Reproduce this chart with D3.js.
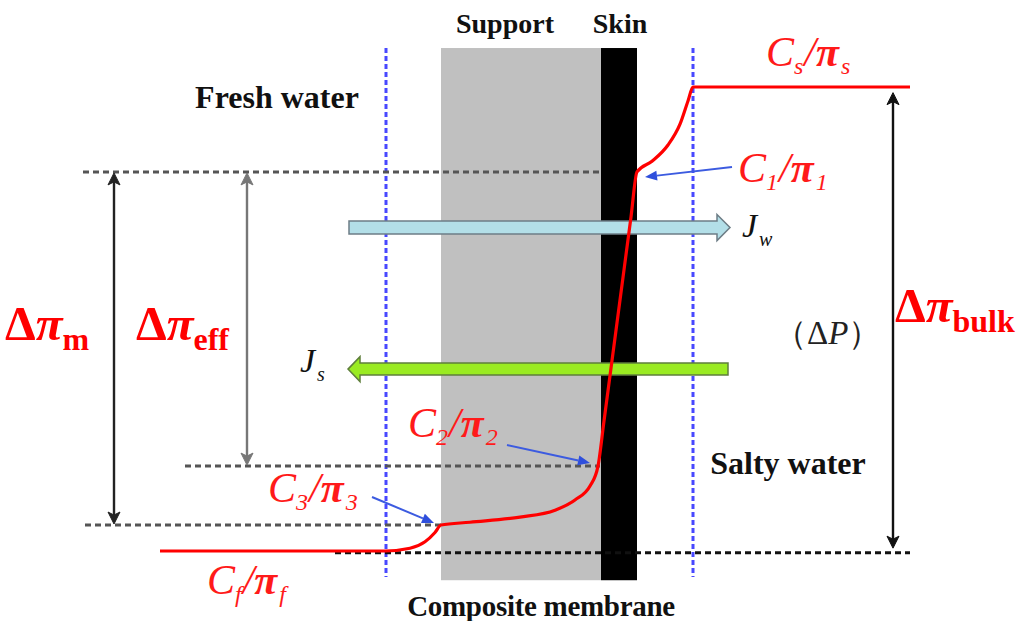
<!DOCTYPE html>
<html><head><meta charset="utf-8">
<script src="https://cdn.jsdelivr.net/npm/d3@7"></script>
<style>body{margin:0;background:#fff}svg{display:block}</style>
</head><body>
<svg id="c" width="1017" height="621"></svg>
<script>
// ---- data (diagram units: x = position across the cell, c = relative concentration) ----
const layerNames = ["Support", "Skin"];
const layerX0 = [441, 601];
const layerX1 = [601, 637];
const layerColors = ["#c0c0c0", "#000000"];
const membraneTop = 108.4, membraneBottom = -6.3;
const boundaryX = [386, 693];            // edges of the concentration-polarisation layers
const profileX = [160, 385, 410, 425, 435, 441, 470, 520, 555, 575, 590, 598, 604, 631, 637, 652, 668, 680, 688, 693, 910];
const profileC = [0, 0, 0.6, 2, 4, 5.6, 6.2, 7.3, 8.8, 11, 14, 18.3, 28, 72, 81.7, 84, 87.5, 92, 97, 100, 100];
const levelC  = [81.7, 18.3, 5.6, -0.4];  // C1, C2, C3, baseline
const levelX0 = [83, 185, 85, 335];
const levelX1 = [601, 600, 441, 910];
const spanX  = [114, 247, 893];           // Δπm, Δπeff, Δπbulk
const spanC0 = [5.6, 18.3, 0.4];
const spanC1 = [81.7, 81.7, 99];
const fluxNames = ["Jw", "Js"];
const fluxC  = [69.7, 39.2];
const fluxX0 = [349, 728];
const fluxX1 = [730, 348];

const svg = d3.select("#c");
const x = d3.scaleLinear().domain([0, 1017]).range([0, 1017]);
const y = d3.scaleLinear().domain([0, 100]).range([551, 87]);

const serif = "'Liberation Serif','Times New Roman',serif";

// membrane layers
svg.selectAll("rect.layer").data(layerNames).join("rect")
  .attr("x", (d, i) => x(layerX0[i])).attr("width", (d, i) => x(layerX1[i]) - x(layerX0[i]))
  .attr("y", y(membraneTop)).attr("height", y(membraneBottom) - y(membraneTop))
  .attr("fill", (d, i) => layerColors[i]);

// boundary layer lines
svg.selectAll("line.bl").data(boundaryX).join("line")
  .attr("x1", d => x(d)).attr("x2", d => x(d))
  .attr("y1", y(membraneTop)).attr("y2", y(-5.6))
  .attr("stroke", "#4848ff").attr("stroke-width", 3).attr("stroke-dasharray", "5,3");

// level dashed lines
svg.selectAll("line.lvl").data(levelC).join("line")
  .attr("x1", (d, i) => x(levelX0[i])).attr("x2", (d, i) => x(levelX1[i]))
  .attr("y1", d => y(d)).attr("y2", d => y(d))
  .attr("stroke", (d, i) => i === 3 ? "#111" : "#555")
  .attr("stroke-width", 3).attr("stroke-dasharray", "6,4");

// flux arrows
function fluxPath(x0, x1, yc, h, H, L) {
  const dir = Math.sign(x1 - x0);
  const xh = x1 - dir * L;
  return `M${x0},${yc - h}L${xh},${yc - h}L${xh},${yc - H}L${x1},${yc}L${xh},${yc + H}L${xh},${yc + h}L${x0},${yc + h}Z`;
}
svg.append("path").attr("d", fluxPath(x(fluxX0[0]), x(fluxX1[0]), y(fluxC[0]), 6.5, 13, 13))
  .attr("fill", "#b3dfe8").attr("stroke", "#6d7d86").attr("stroke-width", 1.5);
svg.append("path").attr("d", fluxPath(x(fluxX0[1]), x(fluxX1[1]), y(fluxC[1]), 6, 12.5, 12))
  .attr("fill", "#9aeb22").attr("stroke", "#5f7f3c").attr("stroke-width", 1.5);

// concentration profile
const line = d3.line().x(d => x(d[0])).y(d => y(d[1])).curve(d3.curveMonotoneX);
svg.append("path").datum(profileX.map((v, i) => [v, profileC[i]]))
  .attr("d", line).attr("fill", "none").attr("stroke", "#ff0000").attr("stroke-width", 3.2);

// double arrows
function vArrow(xx, ya, yb, color) {
  const g = svg.append("g");
  g.append("line").attr("x1", xx).attr("x2", xx).attr("y1", ya + 4).attr("y2", yb - 4)
    .attr("stroke", color).attr("stroke-width", 2.4);
  g.append("path").attr("d", `M${xx},${ya + 1}L${xx - 6},${ya + 13}L${xx},${ya + 10}L${xx + 6},${ya + 13}Z`).attr("fill", color).attr("stroke", color).attr("stroke-width", 1);
  g.append("path").attr("d", `M${xx},${yb - 1}L${xx - 6},${yb - 13}L${xx},${yb - 10}L${xx + 6},${yb - 13}Z`).attr("fill", color).attr("stroke", color).attr("stroke-width", 1);
}
const spanColors = ["#222", "#777", "#111"];
spanX.forEach((v, i) => vArrow(x(v), y(spanC1[i]), y(spanC0[i]), spanColors[i]));

// blue pointer arrows
function pointer(x0, y0, x1, y1) {
  const a = Math.atan2(y1 - y0, x1 - x0), L = 12, W = 5;
  const bx = x1 - L * Math.cos(a), by = y1 - L * Math.sin(a);
  svg.append("line").attr("x1", x0).attr("y1", y0).attr("x2", bx).attr("y2", by)
    .attr("stroke", "#3c5be0").attr("stroke-width", 2);
  svg.append("path").attr("d", `M${x1},${y1}L${bx - W * Math.sin(a)},${by + W * Math.cos(a)}L${bx + W * Math.sin(a)},${by - W * Math.cos(a)}Z`)
    .attr("fill", "#2f4fdc");
}
pointer(732, 167, 645, 177);
pointer(507, 445, 590, 463);
pointer(372, 497, 434, 523);

// ---- text ----
function txt(xx, yy, size, opts = {}) {
  return svg.append("text").attr("x", xx).attr("y", yy)
    .attr("font-family", serif).attr("font-size", size)
    .attr("font-weight", opts.weight || "bold")
    .attr("font-style", opts.style || "normal")
    .attr("fill", opts.fill || "#111")
    .attr("text-anchor", opts.anchor || "start");
}
txt(505, 33, 28, {anchor: "middle"}).text("Support");
txt(620, 33, 28, {anchor: "middle"}).text("Skin");
txt(277, 108, 32, {anchor: "middle"}).text("Fresh water");
txt(788, 474, 32, {anchor: "middle"}).text("Salty water");
txt(541, 616, 29, {anchor: "middle"}).attr("letter-spacing", -0.3).text("Composite membrane");

// C/π labels
function cLabel(xx, yy, sub) {
  const t = txt(xx, yy, 42, {style: "italic", weight: "normal", fill: "#ff1a1a"});
  t.append("tspan").text("C");
  t.append("tspan").attr("font-size", 24).attr("dy", 8).text(sub);
  t.append("tspan").attr("dy", -8).attr("dx", 1).text("/");
  t.append("tspan").attr("font-weight", "bold").text("π");
  t.append("tspan").attr("font-size", 24).attr("dy", 8).attr("dx", 2).text(sub);
}
cLabel(766, 66, "s");
cLabel(738, 182, "1");
cLabel(408, 437, "2");
cLabel(268, 502, "3");
cLabel(207, 594, "f");

// Δπ labels
function dpLabel(xx, yy, sub) {
  const t = txt(xx, yy, 49, {fill: "#ff0000"});
  t.append("tspan").text("Δ");
  t.append("tspan").attr("font-style", "italic").text("π");
  t.append("tspan").attr("font-size", 32).attr("dy", 10).text(sub);
}
dpLabel(5, 340, "m");
dpLabel(136, 340, "eff");
dpLabel(895, 322, "bulk");

// flux labels
function jLabel(xx, yy, sub) {
  const t = txt(xx, yy, 34, {style: "italic", weight: "normal", fill: "#111"});
  t.append("tspan").text("J");
  t.append("tspan").attr("font-size", 20).attr("dy", 9).attr("dx", 2).text(sub);
}
jLabel(742, 237, "w");
jLabel(300, 372, "s");

const dp = txt(774, 344, 33, {weight: "normal", fill: "#222"});
dp.append("tspan").text("（Δ");
dp.append("tspan").attr("font-style", "italic").text("P");
dp.append("tspan").text("）");
</script>
</body></html>
